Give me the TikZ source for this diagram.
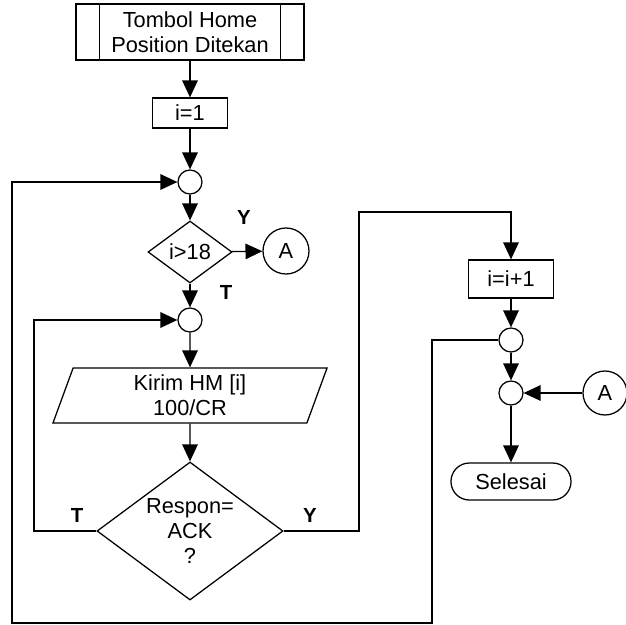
\documentclass[tikz,border=0pt]{standalone}
\usepackage{fontspec}
\setmainfont{Liberation Sans}
\usepackage{tikz}
\usetikzlibrary{shapes.geometric,arrows.meta,positioning,calc}

\tikzset{
  garis/.style={line width=0.9pt},
  panah/.style={garis, -{Triangle[length=12pt,width=11pt]}},
  proses/.style={draw, garis, rectangle, inner sep=0pt, align=center},
  bulat/.style={draw, garis, circle, inner sep=0pt},
  putusan/.style={draw, garis, diamond, aspect=1.35, inner sep=0pt, align=center},
  label/.style={font=\fontsize{14.5}{16}\selectfont\bfseries}
}

\begin{document}
\begin{tikzpicture}[x=0.025cm, y=-0.025cm, font=\fontsize{15.5}{18}\selectfont]
			\useasboundingbox (0,0) rectangle (626,625);
			% Left column
			\node[proses, minimum width=5.7cm, minimum height=1.4cm] (start) at (190,32) {Tombol Home\\Position Ditekan};
			\draw[garis] ($(start.north west)+(24,0)$) -- ($(start.south west)+(24,0)$);
			\draw[garis] ($(start.north east)+(-24,0)$) -- ($(start.south east)+(-24,0)$);
			\node[proses, minimum width=1.875cm, minimum height=0.75cm] (init) at (190,113) {i=1};
			\node[bulat, minimum size=0.6cm] (c1) at (190,182) {};
			\node[putusan, minimum width=2.1cm, minimum height=1.55cm] (cek) at (190,252) {i>18};
			\node[bulat, minimum size=1.15cm] (A1) at (286,251) {A};
			\node[bulat, minimum size=0.6cm] (c2) at (190,320) {};
			\node[draw, garis, trapezium, trapezium left angle=64, trapezium right angle=116, trapezium stretches body,
			      minimum width=6.85cm, minimum height=1.375cm, inner sep=0pt, align=center] (kirim) at (190,395.5) {Kirim HM [i]\\100/CR};
			\node[putusan, minimum width=4.65cm, minimum height=3.45cm] (respon) at (190,531) {Respon=\\ACK\\?};
			
			% Right column
			\node[proses, minimum width=2.125cm, minimum height=0.95cm] (plus) at (511,279) {i=i+1};
			\node[bulat, minimum size=0.6cm] (c3) at (511,340) {};
			\node[bulat, minimum size=0.6cm] (c4) at (511,393) {};
			\node[bulat, minimum size=1.1cm] (A2) at (605,393) {A};
			\node[draw, garis, rectangle, rounded corners=0.46cm, minimum width=3cm, minimum height=0.925cm] (selesai) at (511,481.5) {Selesai};
			
			% Labels
			\node[label] (y1) at (244,217) {Y};
			\node[label] (t1) at (226,292) {T};
			\node[label] (t2) at (77,515) {T};
			\node[label] (y2) at (310,515) {Y};
			
			% Corner points
			\coordinate (kiri) at (34,531);
			\coordinate (kanan) at (359,212);
			\coordinate (bkanan) at (432,623);
			\coordinate (bkiri) at (12,623);
			
			% Connectors
			\draw[panah] (start) -- (init);
			\draw[panah] (init) -- (c1);
			\draw[panah] (c1) -- (cek);
			\draw[panah] (cek) -- (A1);
			\draw[panah] (cek) -- (c2);
			\draw[panah] (c2) -- (kirim);
			\draw[panah] (kirim) -- (respon);
			\draw[panah] (respon.west) -| (kiri) |- (c2.west);
			\draw[panah] (respon.east) -| (kanan) -| (plus.north);
			\draw[panah] (plus) -- (c3);
			\draw[panah] (c3) -- (c4);
			\draw[panah] (A2) -- (c4);
			\draw[panah] (c4) -- (selesai);
			\draw[panah] (c3.west) -| (bkanan) -- (bkiri) |- (c1.west);
		\end{tikzpicture}
\end{document}
